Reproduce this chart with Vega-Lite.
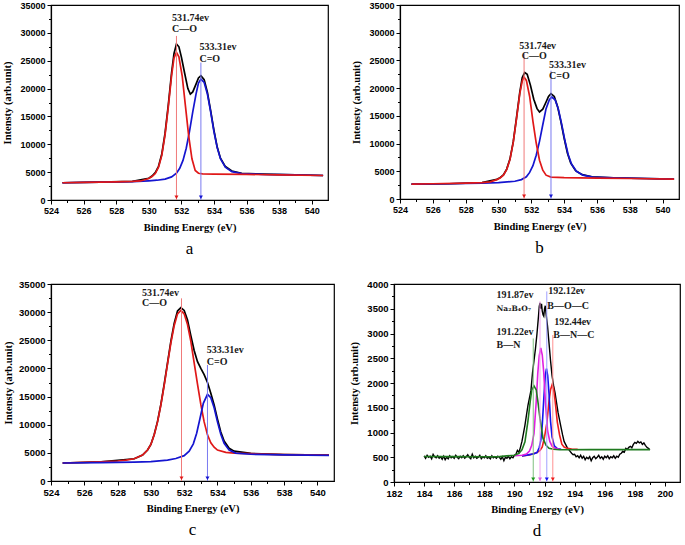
{
"$schema":"https://vega.github.io/schema/vega-lite/v6.json",
"padding":{"left":2,"top":0,"right":0,"bottom":0},
"background":"white",
"config":{"view":{"stroke":"#000","strokeWidth":1.2},
"axis":{"labelFont":"Liberation Sans","labelFontSize":9,"labelFontWeight":"bold","labelColor":"#000","titleFont":"Liberation Serif","titleFontSize":10.5,"titleFontWeight":"bold","titleColor":"#000","domainColor":"#000","domainWidth":1.2,"tickColor":"#000","tickSize":4,"grid":false,"labelPadding":2,"titlePadding":7,"labelFlush":false,"labelOverlap":false}},
"datasets":{
"a_k":[{"x":524.7,"y":3100},{"x":527,"y":3200},{"x":529,"y":3330},{"x":530,"y":3900},{"x":530.2,"y":4300},{"x":530.4,"y":4900},{"x":530.6,"y":6050},{"x":530.8,"y":8250},{"x":531.0,"y":12000},{"x":531.2,"y":17100},{"x":531.4,"y":22800},{"x":531.55,"y":26300},{"x":531.7,"y":28000},{"x":531.85,"y":27500},{"x":532.0,"y":25700},{"x":532.2,"y":22800},{"x":532.4,"y":20000},{"x":532.55,"y":19000},{"x":532.7,"y":19400},{"x":532.9,"y":20800},{"x":533.05,"y":21900},{"x":533.2,"y":22300},{"x":533.4,"y":21600},{"x":533.6,"y":19300},{"x":533.8,"y":16000},{"x":534.0,"y":12500},{"x":534.2,"y":9500},{"x":534.4,"y":7500},{"x":534.7,"y":6000},{"x":535.1,"y":5200},{"x":535.7,"y":4800},{"x":537,"y":4650},{"x":539,"y":4500},{"x":540.7,"y":4400}],
"a_b":[{"x":524.7,"y":3100},{"x":527,"y":3200},{"x":529,"y":3300},{"x":530,"y":3450},{"x":530.5,"y":3550},{"x":531,"y":3750},{"x":531.4,"y":4150},{"x":531.7,"y":4800},{"x":531.9,"y":5700},{"x":532.1,"y":7100},{"x":532.3,"y":9300},{"x":532.5,"y":12300},{"x":532.7,"y":15800},{"x":532.9,"y":19000},{"x":533.05,"y":21000},{"x":533.2,"y":21700},{"x":533.4,"y":21100},{"x":533.6,"y":19000},{"x":533.8,"y":15800},{"x":534.0,"y":12300},{"x":534.2,"y":9400},{"x":534.4,"y":7400},{"x":534.7,"y":5900},{"x":535.1,"y":5100},{"x":535.7,"y":4750},{"x":537,"y":4600},{"x":539,"y":4500},{"x":540.7,"y":4400}],
"a_r":[{"x":524.7,"y":3100},{"x":526,"y":3150},{"x":527,"y":3200},{"x":528,"y":3250},{"x":529,"y":3330},{"x":529.5,"y":3420},{"x":530,"y":3850},{"x":530.2,"y":4200},{"x":530.4,"y":4750},{"x":530.6,"y":5900},{"x":530.8,"y":8000},{"x":531.0,"y":11700},{"x":531.2,"y":16700},{"x":531.4,"y":22300},{"x":531.55,"y":25500},{"x":531.7,"y":26500},{"x":531.85,"y":25700},{"x":532.05,"y":22300},{"x":532.25,"y":16900},{"x":532.45,"y":11500},{"x":532.65,"y":7400},{"x":532.85,"y":5300},{"x":533.05,"y":4800},{"x":533.3,"y":4700},{"x":534,"y":4650},{"x":536,"y":4600},{"x":538,"y":4500},{"x":540.7,"y":4400}],
"a_ar":[{"x":531.7,"y":29450,"k":"C-O"},{"x":533.2,"y":24670,"k":"C=O"}],
"a_t":[{"x":531.43,"y":32700,"t":"531.74ev"},{"x":531.43,"y":30650,"t":"C—O"},{"x":533.11,"y":27480,"t":"533.31ev"},{"x":533.11,"y":25390,"t":"C=O"}],
"b_k":[{"x":524.7,"y":2700},{"x":527,"y":2750},{"x":529,"y":2950},{"x":529.9,"y":3550},{"x":530.1,"y":3850},{"x":530.3,"y":4350},{"x":530.5,"y":5400},{"x":530.7,"y":7200},{"x":530.9,"y":10300},{"x":531.1,"y":14700},{"x":531.3,"y":19300},{"x":531.45,"y":21900},{"x":531.6,"y":22800},{"x":531.75,"y":22500},{"x":531.95,"y":20500},{"x":532.15,"y":18000},{"x":532.35,"y":16300},{"x":532.5,"y":15700},{"x":532.7,"y":16200},{"x":532.9,"y":17500},{"x":533.05,"y":18500},{"x":533.2,"y":19000},{"x":533.4,"y":18500},{"x":533.6,"y":16700},{"x":533.8,"y":14000},{"x":534.0,"y":11000},{"x":534.2,"y":8300},{"x":534.4,"y":6500},{"x":534.7,"y":5100},{"x":535.1,"y":4400},{"x":535.7,"y":4000},{"x":537,"y":3800},{"x":539,"y":3700},{"x":540.7,"y":3600}],
"b_b":[{"x":524.7,"y":2700},{"x":527,"y":2750},{"x":529,"y":2850},{"x":530,"y":2950},{"x":531,"y":3200},{"x":531.4,"y":3500},{"x":531.7,"y":4000},{"x":531.9,"y":4800},{"x":532.1,"y":6000},{"x":532.3,"y":7900},{"x":532.5,"y":10400},{"x":532.7,"y":13400},{"x":532.9,"y":16300},{"x":533.1,"y":17900},{"x":533.25,"y":18400},{"x":533.45,"y":17900},{"x":533.65,"y":16200},{"x":533.85,"y":13500},{"x":534.05,"y":10500},{"x":534.25,"y":8000},{"x":534.45,"y":6300},{"x":534.75,"y":5000},{"x":535.15,"y":4300},{"x":535.75,"y":3950},{"x":537,"y":3800},{"x":539,"y":3700},{"x":540.7,"y":3600}],
"b_r":[{"x":524.7,"y":2700},{"x":526,"y":2750},{"x":528,"y":2850},{"x":529,"y":2950},{"x":529.5,"y":3100},{"x":529.9,"y":3500},{"x":530.1,"y":3800},{"x":530.3,"y":4300},{"x":530.5,"y":5300},{"x":530.7,"y":7100},{"x":530.9,"y":10200},{"x":531.1,"y":14500},{"x":531.3,"y":19000},{"x":531.45,"y":21300},{"x":531.55,"y":22000},{"x":531.7,"y":21400},{"x":531.9,"y":18500},{"x":532.1,"y":14000},{"x":532.3,"y":10100},{"x":532.5,"y":7000},{"x":532.7,"y":5200},{"x":532.9,"y":4300},{"x":533.2,"y":3950},{"x":534,"y":3850},{"x":536,"y":3750},{"x":538,"y":3700},{"x":540.7,"y":3600}],
"b_ar":[{"x":531.56,"y":26160,"k":"C-O"},{"x":533.2,"y":23150,"k":"C=O"}],
"b_t":[{"x":531.26,"y":27660,"t":"531.74ev"},{"x":531.42,"y":25740,"t":"C—O"},{"x":533.08,"y":24230,"t":"533.31ev"},{"x":533.08,"y":22250,"t":"C=O"}],
"c_k":[{"x":524.7,"y":3200},{"x":527,"y":3400},{"x":529,"y":3950},{"x":529.5,"y":4600},{"x":529.8,"y":5500},{"x":530,"y":6500},{"x":530.2,"y":8250},{"x":530.4,"y":10600},{"x":530.6,"y":13600},{"x":530.8,"y":17200},{"x":531.0,"y":21000},{"x":531.2,"y":24800},{"x":531.4,"y":28000},{"x":531.6,"y":30200},{"x":531.8,"y":30800},{"x":532.0,"y":30300},{"x":532.2,"y":28600},{"x":532.4,"y":25800},{"x":532.6,"y":23200},{"x":532.8,"y":21200},{"x":533.0,"y":20000},{"x":533.2,"y":18900},{"x":533.4,"y":17500},{"x":533.6,"y":15600},{"x":533.8,"y":13500},{"x":534.0,"y":11000},{"x":534.2,"y":8700},{"x":534.4,"y":7100},{"x":534.7,"y":5800},{"x":535,"y":5300},{"x":536,"y":4900},{"x":538,"y":4700},{"x":540.7,"y":4600}],
"c_r":[{"x":524.7,"y":3200},{"x":526,"y":3300},{"x":527,"y":3400},{"x":528,"y":3550},{"x":528.5,"y":3700},{"x":529,"y":3950},{"x":529.5,"y":4600},{"x":529.8,"y":5500},{"x":530.0,"y":6500},{"x":530.2,"y":8200},{"x":530.4,"y":10500},{"x":530.6,"y":13500},{"x":530.8,"y":17000},{"x":531.0,"y":20800},{"x":531.2,"y":24500},{"x":531.4,"y":27600},{"x":531.6,"y":29700},{"x":531.8,"y":30300},{"x":532.0,"y":29700},{"x":532.2,"y":27800},{"x":532.4,"y":24800},{"x":532.6,"y":21000},{"x":532.8,"y":17200},{"x":533.0,"y":13600},{"x":533.2,"y":10500},{"x":533.4,"y":8200},{"x":533.6,"y":6800},{"x":533.8,"y":6000},{"x":534.0,"y":5500},{"x":534.5,"y":5100},{"x":535,"y":4950},{"x":536,"y":4850},{"x":538,"y":4700},{"x":540.7,"y":4600}],
"c_b":[{"x":524.7,"y":3200},{"x":527,"y":3250},{"x":529,"y":3350},{"x":530,"y":3450},{"x":531,"y":3700},{"x":531.5,"y":4000},{"x":532,"y":4500},{"x":532.3,"y":5300},{"x":532.55,"y":6600},{"x":532.75,"y":8500},{"x":532.95,"y":11100},{"x":533.15,"y":13800},{"x":533.4,"y":15400},{"x":533.6,"y":14800},{"x":533.8,"y":13000},{"x":534.0,"y":10500},{"x":534.2,"y":8300},{"x":534.4,"y":6700},{"x":534.7,"y":5500},{"x":535.1,"y":4950},{"x":536,"y":4750},{"x":538,"y":4650},{"x":540.7,"y":4550}],
"c_ar":[{"x":531.84,"y":32450,"k":"C-O"},{"x":533.4,"y":20610,"k":"C=O"}],
"c_t":[{"x":529.47,"y":33460,"t":"531.74ev"},{"x":529.47,"y":31560,"t":"C—O"},{"x":533.36,"y":23270,"t":"533.31ev"},{"x":533.36,"y":21200,"t":"C=O"}],
"d_k":[{"x":184.0,"y":530},{"x":184.1,"y":480},{"x":184.2,"y":540},{"x":184.3,"y":500},{"x":184.4,"y":520},{"x":184.5,"y":470},{"x":184.6,"y":560},{"x":184.7,"y":510},{"x":184.8,"y":490},{"x":184.9,"y":530},{"x":185.0,"y":480},{"x":185.1,"y":510},{"x":185.2,"y":460},{"x":185.3,"y":520},{"x":185.4,"y":450},{"x":185.5,"y":500},{"x":185.6,"y":470},{"x":185.7,"y":530},{"x":185.8,"y":490},{"x":185.9,"y":510},{"x":186.0,"y":480},{"x":186.1,"y":540},{"x":186.2,"y":500},{"x":186.3,"y":470},{"x":186.4,"y":520},{"x":186.5,"y":490},{"x":186.6,"y":530},{"x":186.7,"y":480},{"x":186.8,"y":510},{"x":186.9,"y":550},{"x":187.0,"y":500},{"x":187.1,"y":470},{"x":187.2,"y":560},{"x":187.3,"y":490},{"x":187.4,"y":520},{"x":187.5,"y":480},{"x":187.6,"y":500},{"x":187.7,"y":540},{"x":187.8,"y":470},{"x":187.9,"y":510},{"x":188.0,"y":490},{"x":188.1,"y":530},{"x":188.2,"y":480},{"x":188.3,"y":500},{"x":188.4,"y":470},{"x":188.5,"y":530},{"x":188.6,"y":490},{"x":188.7,"y":510},{"x":188.8,"y":480},{"x":188.9,"y":520},{"x":189.0,"y":500},{"x":189.1,"y":460},{"x":189.2,"y":510},{"x":189.3,"y":430},{"x":189.4,"y":500},{"x":189.5,"y":480},{"x":189.6,"y":520},{"x":189.7,"y":470},{"x":189.8,"y":510},{"x":189.9,"y":490},{"x":190.0,"y":540},{"x":190.1,"y":560},{"x":190.2,"y":640},{"x":190.3,"y":600},{"x":190.4,"y":700},{"x":190.5,"y":820},{"x":190.6,"y":980},{"x":190.7,"y":1150},{"x":190.8,"y":1350},{"x":190.9,"y":1550},{"x":191.0,"y":1700},{"x":191.1,"y":1850},{"x":191.2,"y":2200},{"x":191.3,"y":2450},{"x":191.4,"y":2700},{"x":191.5,"y":3000},{"x":191.6,"y":3350},{"x":191.65,"y":3550},{"x":191.7,"y":3620},{"x":191.75,"y":3500},{"x":191.8,"y":3600},{"x":191.85,"y":3450},{"x":191.9,"y":3380},{"x":191.95,"y":3350},{"x":192.0,"y":3500},{"x":192.05,"y":3560},{"x":192.1,"y":3400},{"x":192.2,"y":3150},{"x":192.3,"y":2800},{"x":192.4,"y":2450},{"x":192.5,"y":2150},{"x":192.6,"y":1950},{"x":192.7,"y":1800},{"x":192.8,"y":1600},{"x":192.9,"y":1400},{"x":193.0,"y":1250},{"x":193.1,"y":1100},{"x":193.2,"y":950},{"x":193.3,"y":820},{"x":193.4,"y":760},{"x":193.5,"y":700},{"x":193.6,"y":660},{"x":193.7,"y":620},{"x":193.8,"y":580},{"x":193.9,"y":550},{"x":194.0,"y":560},{"x":194.1,"y":510},{"x":194.2,"y":530},{"x":194.3,"y":490},{"x":194.4,"y":540},{"x":194.5,"y":480},{"x":194.6,"y":520},{"x":194.7,"y":450},{"x":194.8,"y":500},{"x":194.9,"y":470},{"x":195.0,"y":510},{"x":195.1,"y":430},{"x":195.2,"y":490},{"x":195.3,"y":520},{"x":195.4,"y":470},{"x":195.5,"y":500},{"x":195.6,"y":540},{"x":195.7,"y":480},{"x":195.8,"y":510},{"x":195.9,"y":460},{"x":196.0,"y":520},{"x":196.1,"y":490},{"x":196.2,"y":530},{"x":196.3,"y":470},{"x":196.4,"y":510},{"x":196.5,"y":490},{"x":196.6,"y":530},{"x":196.7,"y":480},{"x":196.8,"y":520},{"x":196.9,"y":500},{"x":197.0,"y":560},{"x":197.1,"y":580},{"x":197.2,"y":620},{"x":197.3,"y":600},{"x":197.4,"y":680},{"x":197.5,"y":660},{"x":197.6,"y":700},{"x":197.7,"y":720},{"x":197.8,"y":690},{"x":197.9,"y":760},{"x":198.0,"y":800},{"x":198.1,"y":780},{"x":198.2,"y":820},{"x":198.3,"y":790},{"x":198.4,"y":810},{"x":198.5,"y":760},{"x":198.6,"y":790},{"x":198.7,"y":740},{"x":198.8,"y":700},{"x":198.9,"y":680},{"x":199.0,"y":650}],
"d_g":[{"x":184,"y":515},{"x":186,"y":512},{"x":188,"y":510},{"x":189,"y":512},{"x":189.5,"y":527},{"x":190,"y":541},{"x":190.3,"y":577},{"x":190.5,"y":650},{"x":190.7,"y":810},{"x":190.9,"y":1235},{"x":191.05,"y":1630},{"x":191.15,"y":1855},{"x":191.3,"y":1940},{"x":191.45,"y":1860},{"x":191.55,"y":1650},{"x":191.7,"y":1280},{"x":191.9,"y":880},{"x":192.1,"y":740},{"x":192.3,"y":682},{"x":192.6,"y":661},{"x":193,"y":652},{"x":195,"y":655},{"x":197,"y":655},{"x":199,"y":655}],
"d_m":[{"x":190.0,"y":530},{"x":190.5,"y":540},{"x":190.8,"y":565},{"x":191.0,"y":625},{"x":191.15,"y":740},{"x":191.3,"y":975},{"x":191.45,"y":1630},{"x":191.55,"y":2190},{"x":191.65,"y":2555},{"x":191.75,"y":2710},{"x":191.85,"y":2565},{"x":191.95,"y":2210},{"x":192.05,"y":1665},{"x":192.2,"y":1040},{"x":192.35,"y":820},{"x":192.5,"y":725},{"x":192.7,"y":680},{"x":193.0,"y":660}],
"d_b":[{"x":190.5,"y":525},{"x":191.0,"y":553},{"x":191.3,"y":570},{"x":191.5,"y":595},{"x":191.65,"y":698},{"x":191.75,"y":840},{"x":191.85,"y":1150},{"x":191.95,"y":1675},{"x":192.05,"y":2155},{"x":192.13,"y":2290},{"x":192.21,"y":2150},{"x":192.3,"y":1780},{"x":192.4,"y":1225},{"x":192.5,"y":910},{"x":192.65,"y":730},{"x":192.85,"y":675},{"x":193.1,"y":660}],
"d_r":[{"x":190.5,"y":525},{"x":191.0,"y":545},{"x":191.5,"y":595},{"x":191.7,"y":640},{"x":191.85,"y":710},{"x":192.0,"y":910},{"x":192.15,"y":1180},{"x":192.3,"y":1640},{"x":192.4,"y":1865},{"x":192.5,"y":1960},{"x":192.6,"y":1880},{"x":192.7,"y":1650},{"x":192.85,"y":1210},{"x":193.0,"y":950},{"x":193.15,"y":765},{"x":193.3,"y":705},{"x":193.5,"y":680},{"x":193.8,"y":665},{"x":194.2,"y":660}],
"d_ar":[{"x":191.25,"y":2900,"k":"B-N"},{"x":191.7,"y":3650,"k":"Na2B4O7"},{"x":192.15,"y":3850,"k":"B-O-C"},{"x":192.55,"y":2970,"k":"B-N-C"}],
"d_t":[{"x":188.81,"y":3780,"t":"191.87ev"},{"x":188.81,"y":3040,"t":"191.22ev"},{"x":188.81,"y":2770,"t":"B—N"},{"x":192.24,"y":3850,"t":"192.12ev"},{"x":192.18,"y":3560,"t":"B—O—C"},{"x":192.64,"y":3240,"t":"192.44ev"},{"x":192.58,"y":2960,"t":"B—N—C"}],
"d_t2":[{"x":188.81,"y":3490,"t":"Na₂B₄O₇"}]
},
"spacing":20,
"vconcat":[
{"hconcat":[
{"width":277,"height":195,
"title":{"text":"a","orient":"bottom","anchor":"middle","frame":"group","font":"Liberation Serif","fontSize":17,"fontWeight":"normal","color":"#000","offset":8},
"layer":[
{"data":{"name":"a_k"},"mark":{"type":"line","color":"#000","strokeWidth":1.7},"encoding":{"x":{"field":"x","type":"quantitative","scale":{"domain":[524,541],"nice":false,"zero":false},"axis":{"values":[524,526,528,530,532,534,536,538,540],"title":"Binding Energy (eV)","orient":"bottom"}},"y":{"field":"y","type":"quantitative","scale":{"domain":[0,35000],"nice":false},"axis":{"values":[0,5000,10000,15000,20000,25000,30000,35000],"format":"d","title":"Intensty (arb.unit)","orient":"left"}}}},
{"data":{"name":"a_b"},"mark":{"type":"line","color":"#1515d0","strokeWidth":1.7},"encoding":{"x":{"field":"x","type":"quantitative","axis":{"values":[525,527,529,531,533,535,537,539],"labels":false,"title":null,"tickSize":2.5,"domain":false,"orient":"bottom"}},"y":{"field":"y","type":"quantitative","axis":{"values":[2500,7500,12500,17500,22500,27500,32500],"labels":false,"title":null,"tickSize":2.5,"domain":false,"orient":"left"}}}},
{"data":{"name":"a_r"},"mark":{"type":"line","color":"#e01818","strokeWidth":1.7},"encoding":{"x":{"field":"x","type":"quantitative","axis":null},"y":{"field":"y","type":"quantitative","axis":null}}},
{"data":{"name":"a_ar"},"mark":{"type":"rule","strokeWidth":1},"encoding":{"x":{"field":"x","type":"quantitative","axis":null},"y":{"field":"y","type":"quantitative","axis":null},"y2":{"datum":0},"color":{"field":"k","type":"nominal","scale":{"domain":["C-O","C=O"],"range":["#f07a7a","#7a7af0"]},"legend":null}}},
{"data":{"name":"a_ar"},"mark":{"type":"point","shape":"triangle-down","filled":true,"size":16,"opacity":1},"encoding":{"x":{"field":"x","type":"quantitative","axis":null},"y":{"datum":500,"type":"quantitative","axis":null},"color":{"field":"k","type":"nominal","scale":{"domain":["C-O","C=O"],"range":["#e01818","#1515d0"]},"legend":null}}},
{"data":{"name":"a_t"},"mark":{"type":"text","align":"left","baseline":"middle","font":"Liberation Serif","fontWeight":"bold","fontSize":10,"color":"#1a1a1a"},"encoding":{"x":{"field":"x","type":"quantitative","axis":null},"y":{"field":"y","type":"quantitative","axis":null},"text":{"field":"t"}}}
],
"resolve":{"axis":{"x":"independent","y":"independent"},"scale":{"color":"independent"}}},
{"width":279,"height":194,
"title":{"text":"b","orient":"bottom","anchor":"middle","frame":"group","font":"Liberation Serif","fontSize":17,"fontWeight":"normal","color":"#000","offset":8},
"layer":[
{"data":{"name":"b_k"},"mark":{"type":"line","color":"#000","strokeWidth":1.7},"encoding":{"x":{"field":"x","type":"quantitative","scale":{"domain":[524,541],"nice":false,"zero":false},"axis":{"values":[524,526,528,530,532,534,536,538,540],"title":"Binding Energy (eV)","orient":"bottom"}},"y":{"field":"y","type":"quantitative","scale":{"domain":[0,35000],"nice":false},"axis":{"values":[0,5000,10000,15000,20000,25000,30000,35000],"format":"d","title":"Intensty (arb.unit)","orient":"left"}}}},
{"data":{"name":"b_b"},"mark":{"type":"line","color":"#1515d0","strokeWidth":1.7},"encoding":{"x":{"field":"x","type":"quantitative","axis":{"values":[525,527,529,531,533,535,537,539],"labels":false,"title":null,"tickSize":2.5,"domain":false,"orient":"bottom"}},"y":{"field":"y","type":"quantitative","axis":{"values":[2500,7500,12500,17500,22500,27500,32500],"labels":false,"title":null,"tickSize":2.5,"domain":false,"orient":"left"}}}},
{"data":{"name":"b_r"},"mark":{"type":"line","color":"#e01818","strokeWidth":1.7},"encoding":{"x":{"field":"x","type":"quantitative","axis":null},"y":{"field":"y","type":"quantitative","axis":null}}},
{"data":{"name":"b_ar"},"mark":{"type":"rule","strokeWidth":1},"encoding":{"x":{"field":"x","type":"quantitative","axis":null},"y":{"field":"y","type":"quantitative","axis":null},"y2":{"datum":0},"color":{"field":"k","type":"nominal","scale":{"domain":["C-O","C=O"],"range":["#f07a7a","#7a7af0"]},"legend":null}}},
{"data":{"name":"b_ar"},"mark":{"type":"point","shape":"triangle-down","filled":true,"size":16,"opacity":1},"encoding":{"x":{"field":"x","type":"quantitative","axis":null},"y":{"datum":500,"type":"quantitative","axis":null},"color":{"field":"k","type":"nominal","scale":{"domain":["C-O","C=O"],"range":["#e01818","#1515d0"]},"legend":null}}},
{"data":{"name":"b_t"},"mark":{"type":"text","align":"left","baseline":"middle","font":"Liberation Serif","fontWeight":"bold","fontSize":10,"color":"#1a1a1a"},"encoding":{"x":{"field":"x","type":"quantitative","axis":null},"y":{"field":"y","type":"quantitative","axis":null},"text":{"field":"t"}}}
],
"resolve":{"axis":{"x":"independent","y":"independent"},"scale":{"color":"independent"}}}
],"spacing":22},
{"hconcat":[
{"width":283,"height":197,
"title":{"text":"c","orient":"bottom","anchor":"middle","frame":"group","font":"Liberation Serif","fontSize":17,"fontWeight":"normal","color":"#000","offset":8},
"layer":[
{"data":{"name":"c_k"},"mark":{"type":"line","color":"#000","strokeWidth":1.7},"encoding":{"x":{"field":"x","type":"quantitative","scale":{"domain":[524,541],"nice":false,"zero":false},"axis":{"values":[524,526,528,530,532,534,536,538,540],"title":"Binding Energy (eV)","orient":"bottom","labelFontSize":9.5}},"y":{"field":"y","type":"quantitative","scale":{"domain":[0,35000],"nice":false},"axis":{"values":[0,5000,10000,15000,20000,25000,30000,35000],"format":"d","title":"Intensty (arb.unit)","orient":"left","labelFontSize":9.5,"titlePadding":5}}}},
{"data":{"name":"c_r"},"mark":{"type":"line","color":"#e01818","strokeWidth":1.7},"encoding":{"x":{"field":"x","type":"quantitative","axis":{"values":[525,527,529,531,533,535,537,539],"labels":false,"title":null,"tickSize":2.5,"domain":false,"orient":"bottom"}},"y":{"field":"y","type":"quantitative","axis":{"values":[2500,7500,12500,17500,22500,27500,32500],"labels":false,"title":null,"tickSize":2.5,"domain":false,"orient":"left"}}}},
{"data":{"name":"c_b"},"mark":{"type":"line","color":"#1515d0","strokeWidth":1.7},"encoding":{"x":{"field":"x","type":"quantitative","axis":null},"y":{"field":"y","type":"quantitative","axis":null}}},
{"data":{"name":"c_ar"},"mark":{"type":"rule","strokeWidth":1},"encoding":{"x":{"field":"x","type":"quantitative","axis":null},"y":{"field":"y","type":"quantitative","axis":null},"y2":{"datum":0},"color":{"field":"k","type":"nominal","scale":{"domain":["C-O","C=O"],"range":["#f07a7a","#7a7af0"]},"legend":null}}},
{"data":{"name":"c_ar"},"mark":{"type":"point","shape":"triangle-down","filled":true,"size":16,"opacity":1},"encoding":{"x":{"field":"x","type":"quantitative","axis":null},"y":{"datum":500,"type":"quantitative","axis":null},"color":{"field":"k","type":"nominal","scale":{"domain":["C-O","C=O"],"range":["#e01818","#1515d0"]},"legend":null}}},
{"data":{"name":"c_t"},"mark":{"type":"text","align":"left","baseline":"middle","font":"Liberation Serif","fontWeight":"bold","fontSize":10,"color":"#1a1a1a"},"encoding":{"x":{"field":"x","type":"quantitative","axis":null},"y":{"field":"y","type":"quantitative","axis":null},"text":{"field":"t"}}}
],
"resolve":{"axis":{"x":"independent","y":"independent"},"scale":{"color":"independent"}}},
{"width":286,"height":198,
"title":{"text":"d","orient":"bottom","anchor":"middle","frame":"group","font":"Liberation Serif","fontSize":17,"fontWeight":"normal","color":"#000","offset":8},
"layer":[
{"data":{"name":"d_k"},"mark":{"type":"line","color":"#000","strokeWidth":1.4},"encoding":{"x":{"field":"x","type":"quantitative","scale":{"domain":[182,201],"nice":false,"zero":false},"axis":{"values":[182,184,186,188,190,192,194,196,198,200],"title":"Binding Energy (eV)","orient":"bottom","labelFontSize":9.5}},"y":{"field":"y","type":"quantitative","scale":{"domain":[0,4000],"nice":false},"axis":{"values":[0,500,1000,1500,2000,2500,3000,3500,4000],"format":"d","title":"Intensty (arb.unit)","orient":"left","labelFontSize":9.5}}}},
{"data":{"name":"d_r"},"mark":{"type":"line","color":"#ee1c1c","strokeWidth":1.6},"encoding":{"x":{"field":"x","type":"quantitative","axis":{"values":[183,185,187,189,191,193,195,197,199],"labels":false,"title":null,"tickSize":2.5,"domain":false,"orient":"bottom"}},"y":{"field":"y","type":"quantitative","axis":{"values":[250,750,1250,1750,2250,2750,3250,3750],"labels":false,"title":null,"tickSize":2.5,"domain":false,"orient":"left"}}}},
{"data":{"name":"d_b"},"mark":{"type":"line","color":"#1414f0","strokeWidth":1.6},"encoding":{"x":{"field":"x","type":"quantitative","axis":null},"y":{"field":"y","type":"quantitative","axis":null}}},
{"data":{"name":"d_m"},"mark":{"type":"line","color":"#e020e0","strokeWidth":1.6},"encoding":{"x":{"field":"x","type":"quantitative","axis":null},"y":{"field":"y","type":"quantitative","axis":null}}},
{"data":{"name":"d_g"},"mark":{"type":"line","color":"#1f7a1f","strokeWidth":1.6},"encoding":{"x":{"field":"x","type":"quantitative","axis":null},"y":{"field":"y","type":"quantitative","axis":null}}},
{"data":{"name":"d_ar"},"mark":{"type":"rule","strokeWidth":1},"encoding":{"x":{"field":"x","type":"quantitative","axis":null},"y":{"field":"y","type":"quantitative","axis":null},"y2":{"datum":0},"color":{"field":"k","type":"nominal","scale":{"domain":["B-N","Na2B4O7","B-O-C","B-N-C"],"range":["#7fc07f","#f0a0f0","#a0a0ff","#ff9090"]},"legend":null}}},
{"data":{"name":"d_ar"},"mark":{"type":"point","shape":"triangle-down","filled":true,"size":16,"opacity":1},"encoding":{"x":{"field":"x","type":"quantitative","axis":null},"y":{"datum":55,"type":"quantitative","axis":null},"color":{"field":"k","type":"nominal","scale":{"domain":["B-N","Na2B4O7","B-O-C","B-N-C"],"range":["#1f9a1f","#e060e0","#1414f0","#ee1c1c"]},"legend":null}}},
{"data":{"name":"d_t"},"mark":{"type":"text","align":"left","baseline":"middle","font":"Liberation Serif","fontWeight":"bold","fontSize":10,"color":"#1a1a1a"},"encoding":{"x":{"field":"x","type":"quantitative","axis":null},"y":{"field":"y","type":"quantitative","axis":null},"text":{"field":"t"}}},
{"data":{"name":"d_t2"},"mark":{"type":"text","align":"left","baseline":"middle","font":"DejaVu Serif","fontWeight":"bold","fontSize":7.5,"color":"#1a1a1a"},"encoding":{"x":{"field":"x","type":"quantitative","axis":null},"y":{"field":"y","type":"quantitative","axis":null},"text":{"field":"t"}}}
],
"resolve":{"axis":{"x":"independent","y":"independent"},"scale":{"color":"independent"}}}
],"spacing":14}
]
}
